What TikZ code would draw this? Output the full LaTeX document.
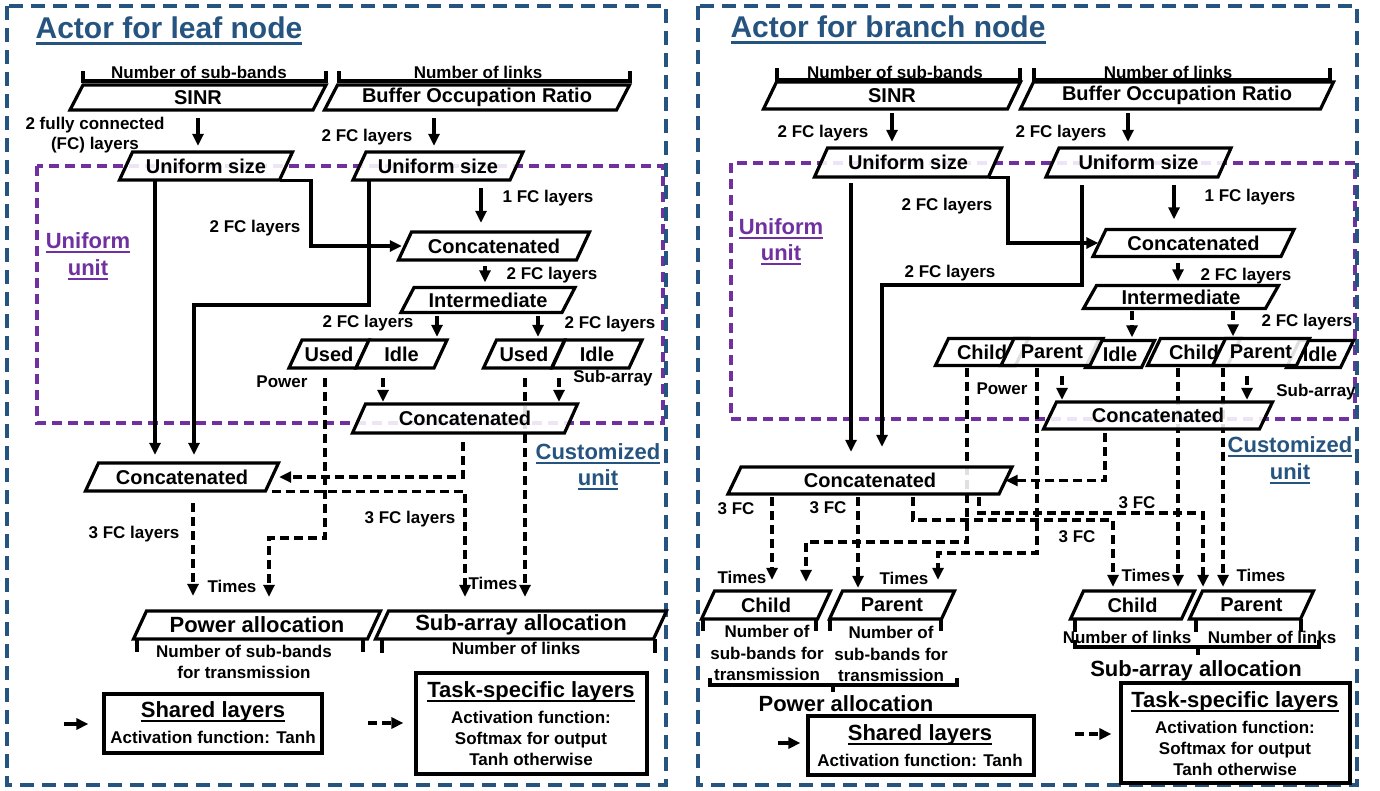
\documentclass[tikz,border=0pt]{standalone}
\usepackage{fontspec}
\setmainfont{Liberation Sans}
\usetikzlibrary{arrows.meta,calc}
\definecolor{bluec}{RGB}{38,84,128}
\definecolor{purp}{RGB}{112,48,160}
\pgfdeclarelayer{background}
\pgfsetlayers{background,main}
\newcommand\fs[2]{\fontsize{#1}{#2}\selectfont\bfseries}
\newcommand\ulin[1]{\setbox0\hbox{#1}\rlap{\rule[-0.2em]{\wd0}{0.08em}}\box0}
\newcommand\pg[7][]{%
  \filldraw[box] ({#3-(#5)/2+6.5},{#4-(#6)/2}) -- ({#3+(#5)/2+6.5},{#4-(#6)/2}) -- ({#3+(#5)/2-6.5},{#4+(#6)/2}) -- ({#3-(#5)/2-6.5},{#4+(#6)/2}) -- cycle;
  \node[lbl,minimum width=#5,minimum height=#6,#1] (#2) at (#3,#4) {#7};}
\tikzset{
 box/.style={draw=black,line width=3.2pt,fill=white,fill opacity=0.88,line join=miter},
 lbl/.style={inner sep=0pt,font=\fs{20}{24},text=black},
 lab/.style={inner sep=0pt,font=\fs{17}{20.5},align=center},
 big/.style={font=\fs{22}{26}},
 arr/.style={line width=3.2pt,-{Triangle[length=12pt,width=11pt]}},
 darr/.style={arr,dash pattern=on 9pt off 5pt},
 brk/.style={line width=3.2pt},
 bdash/.style={draw=bluec,line width=3.4pt,dash pattern=on 14pt off 8pt},
 pdash/.style={draw=purp,line width=3.4pt,dash pattern=on 10pt off 6pt},
 ttl/.style={inner sep=0pt,font=\fs{30}{35},text=bluec},
 lgbox/.style={draw=black,line width=3.2pt,fill=white,inner sep=0pt},
}
\begin{document}
\begin{tikzpicture}[x=1pt,y=-1pt]
\useasboundingbox (0,0) rectangle (1380,790);
\begin{pgfonlayer}{background}
\fill[white] (0,0) rectangle (1380,790);
\draw[pdash] (37,166) rectangle (663,423);
\draw[pdash] (731,163) rectangle (1355,419);
\end{pgfonlayer}
\draw[bdash] (7,6) rectangle (666,785);
\draw[bdash] (698,6) rectangle (1357,785);

% ================= LEFT PANEL =================
\node[ttl] (titleL) at (169,31) {\ulin{Actor for leaf node}};
\draw[brk] (83,71) -- (83,81) -- (326,81) -- (326,71);
\draw[brk] (339,71) -- (339,81) -- (630,81) -- (630,71);
\node[lab] (nsbL) at (199,72) {Number of sub-bands};
\node[lab] (nlkL) at (478,72) {Number of links};
\pg{sinrL}{198}{97.5}{243}{25}{SINR}
\pg{borL}{477}{97.5}{292}{25}{Buffer Occupation Ratio}
\node[lab] (fc0L) at (95,135) {2 fully connected\\(FC) layers};
\node[lab] (fc1L) at (367,137) {2 FC layers};
\pg{usL}{206}{166}{160}{28}{Uniform size}
\pg{urL}{438}{166}{157}{28}{Uniform size}
\node[lab] (fc2L) at (548,198) {1 FC layers};
\node[lab] (fc3L) at (255,228) {2 FC layers};
\node[lab,font=\fs{22}{27},text=purp] (uuL) at (88,256) {\ulin{Uniform}\\\ulin{unit}};
\pg{catA}{494}{246}{178}{28}{Concatenated}
\node[lab] (fc4L) at (552,275) {2 FC layers};
\pg{intL}{488}{300}{161}{25}{Intermediate}
\node[lab] (fc5L) at (368,323) {2 FC layers};
\node[lab] (fc6L) at (610,324) {2 FC layers};
\pg{usedL}{329}{354}{67}{28}{Used}
\pg{idleL}{401.5}{354}{78}{28}{Idle}
\pg{usedR}{524}{354}{68}{28}{Used}
\pg{idleR}{597}{354}{77}{28}{Idle}
\node[lab] (pwL) at (282,382) {Power};
\node[lab] (saL) at (613,378) {Sub-array};
\pg{catB}{465}{418.5}{212}{29}{Concatenated}
\node[lab,font=\fs{22}{26},text=bluec] (cuL) at (598,467) {\ulin{Customized}\\\ulin{unit}};
\pg{catC}{182}{477}{180}{28}{Concatenated}
\node[lab] (fc7L) at (134,534) {3 FC layers};
\node[lab] (fc8L) at (410,519) {3 FC layers};
\node[lab] (tm1L) at (232,586) {Times};
\node[lab] (tm2L) at (493,583) {Times};
\pg[big]{powL}{257}{625}{234}{28}{Power allocation}
\pg[big]{subL}{521}{625}{278}{28}{Sub-array allocation}
\draw[brk] (137,639) -- (137,652);
\draw[brk] (363,639) -- (363,652);
\draw[brk] (382,639) -- (382,653);
\draw[brk] (655,639) -- (655,653);
\node[lab,font=\fs{17}{21}] (nsb2L) at (244,662) {Number of sub-bands\\for transmission};
\node[lab] (nlk2L) at (516,648) {Number of links};
% legend left
\node[lgbox,minimum width=218,minimum height=59] (shL) at (213,723.5) {};
\node[lab,font=\fs{22}{26}] (shLt) at (213,712) {\ulin{Shared layers}};
\node[lab] (shLa) at (213,737) {Activation function: Tanh};
\node[lgbox,minimum width=231,minimum height=101] (tskL) at (531.5,723.5) {};
\node[lab,font=\fs{22}{26}] (tskLt) at (531,692) {\ulin{Task-specific layers}};
\node[lab,font=\fs{17}{21}] (tskLa) at (531,738) {Activation function:\\Softmax for output\\Tanh otherwise};
\coordinate (lgA) at (64,724);
\coordinate (lgB) at (368,723);

% ================= RIGHT PANEL =================
\node[ttl] (titleR) at (888,30) {\ulin{Actor for branch node}};
\draw[brk] (777,68) -- (777,80) -- (1020,80) -- (1020,68);
\draw[brk] (1034,68) -- (1034,80) -- (1330,80) -- (1330,68);
\node[lab] (nsbR) at (895,72) {Number of sub-bands};
\node[lab] (nlkR) at (1168,72) {Number of links};
\pg{sinrR}{892}{95.5}{244}{27}{SINR}
\pg{borR}{1177}{95.5}{300}{27}{Buffer Occupation Ratio}
\node[lab] (fc1R) at (823,133) {2 FC layers};
\node[lab] (fc2R) at (1061,133) {2 FC layers};
\pg{usR}{908}{162.5}{174}{29}{Uniform size}
\pg{urR}{1138.5}{162.5}{172}{29}{Uniform size}
\node[lab] (fc3R) at (947,206) {2 FC layers};
\node[lab] (fc4R) at (1250,197) {1 FC layers};
\node[lab,font=\fs{22}{26},text=purp] (uuR) at (781,242) {\ulin{Uniform}\\\ulin{unit}};
\pg{catAR}{1193.5}{243}{188}{27}{Concatenated}
\node[lab] (fc5R) at (950,273) {2 FC layers};
\node[lab] (fc6R) at (1246,276) {2 FC layers};
\pg{intR}{1181}{297}{182}{23}{Intermediate}
\node[lab] (fc7R) at (1307,322) {2 FC layers};
\pg{chR1}{982}{352}{80}{27}{Child}
\pg{idR1}{1120}{354}{56}{27}{Idle}
\pg{paR1}{1052}{352}{89}{27}{Parent}
\pg{chR2}{1194}{352}{80}{27}{Child}
\pg{idR2}{1320}{354}{54}{27}{Idle}
\pg{paR2}{1261}{352}{84}{27}{Parent}
\node[lab] (pwR) at (1002,389) {Power};
\node[lab] (saR) at (1316,392) {Sub-array};
\pg{catMR}{1158}{415.5}{216}{27}{Concatenated}
\node[lab,font=\fs{22}{27},text=bluec] (cuR) at (1290,460) {\ulin{Customized}\\\ulin{unit}};
\pg{catLR}{870}{480.5}{271}{27}{Concatenated}
\node[lab] (fc8R) at (736,509) {3 FC};
\node[lab] (fc9R) at (828,508) {3 FC};
\node[lab] (fc10R) at (1137,503) {3 FC};
\node[lab] (fc11R) at (1077,537) {3 FC};
\node[lab] (tm1R) at (742,577) {Times};
\node[lab] (tm2R) at (904,578) {Times};
\node[lab] (tm3R) at (1146,575) {Times};
\node[lab] (tm4R) at (1261,575) {Times};
\pg{cPow}{766}{605}{116}{28}{Child}
\pg{pPow}{892}{605}{112}{28}{Parent}
\pg{cSub}{1132.5}{605}{111}{28}{Child}
\pg{pSub}{1251.5}{605}{111}{28}{Parent}
\draw[brk] (703,619) -- (703,631);
\draw[brk] (816,619) -- (816,631);
\draw[brk] (830,619) -- (830,631);
\draw[brk] (941,619) -- (941,631);
\node[lab,font=\fs{17}{21.5}] (nsc1R) at (767,653) {Number of\\sub-bands for\\transmission};
\node[lab,font=\fs{17}{21.5}] (nsc2R) at (891,654) {Number of\\sub-bands for\\transmission};
\draw[brk] (710,678) -- (710,685) -- (957,685) -- (957,678);
\draw[brk] (833,685) -- (833,692);
\node[lab,font=\fs{22}{26}] (paR) at (846,704) {Power allocation};
\draw[brk] (1075,619) -- (1075,632);
\draw[brk] (1196,619) -- (1196,632);
\draw[brk] (1301,619) -- (1301,632);
\node[lab] (nl1R) at (1127,637) {Number of links};
\node[lab] (nl2R) at (1272,637) {Number of links};
\draw[brk] (1075,640) -- (1075,647) -- (1319,647) -- (1319,640);
\draw[brk] (1198,647) -- (1198,655);
\node[lab,font=\fs{22}{26}] (saaR) at (1196,671) {Sub-array allocation};
% legend right
\node[lgbox,minimum width=226,minimum height=59] (shR) at (921,745.5) {};
\node[lab,font=\fs{22}{26}] (shRt) at (920,735) {\ulin{Shared layers}};
\node[lab] (shRa) at (920,760) {Activation function: Tanh};
\node[lgbox,minimum width=229,minimum height=100] (tskR) at (1235.5,733) {};
\node[lab,font=\fs{22}{26}] (tskRt) at (1235,702) {\ulin{Task-specific layers}};
\node[lab,font=\fs{17}{21}] (tskRa) at (1235,748) {Activation function:\\Softmax for output\\Tanh otherwise};
\coordinate (lgC) at (778,743);
\coordinate (lgD) at (1075,734);

% ================= CONNECTORS =================
\begin{pgfonlayer}{background}
% left
\coordinate (x434) at (434,0);
\coordinate (x481) at (481,0);
\coordinate (x311) at (311,0);
\coordinate (x155) at (155,0);
\coordinate (k369) at (369,305);
\coordinate (x194) at (194,0);
\coordinate (x485) at (485,0);
\coordinate (x437) at (437,0);
\coordinate (x538) at (538,0);
\coordinate (k325) at (325,538);
\coordinate (x269) at (269,0);
\coordinate (x383) at (383,0);
\coordinate (x559) at (559,0);
\coordinate (x525) at (525,0);
\coordinate (x463) at (463,0);
\coordinate (x465) at (465,0);
\coordinate (x193) at (193,0);
\draw[arr,shorten <=8pt,shorten >=6pt] (sinrL.south) -- (usL.north -| sinrL.south);
\draw[arr,shorten <=8pt,shorten >=6pt] (borL.south -| x434) -- (urL.north -| x434);
\draw[arr,shorten <=8pt,shorten >=9pt] (urL.south -| x481) -- (catA.north -| x481);
\draw[arr,shorten >=3pt] ([xshift=-6.5pt]usL.south east) -| (catA.west -| x311) -- (catA.west);
\draw[arr,shorten >=8pt] (usL.south -| x155) -- (catC.north -| x155);
\draw[arr,shorten >=8pt] (urL.south -| k369) -- (k369) -| (catC.north -| x194);
\draw[arr,shorten <=6pt,shorten >=5pt] (catA.south -| x485) -- (intL.north -| x485);
\draw[darr,shorten <=3pt,shorten >=3pt] (intL.south -| x437) -- (idleL.north -| x437);
\draw[darr,shorten <=3pt,shorten >=3pt] (intL.south -| x538) -- (usedR.north -| x538);
\draw[darr,shorten <=10pt,shorten >=14pt] (usedL.south -| k325) -- (k325) -| (powL.north -| x269);
\draw[darr,shorten <=10pt,shorten >=2pt] (idleL.south -| x383) -- (catB.north -| x383);
\draw[darr,shorten <=10pt,shorten >=2pt] (idleR.south -| x559) -- (catB.north -| x559);
\draw[darr,shorten <=10pt,shorten >=14pt] (usedR.south -| x525) -- (subL.north -| x525);
\draw[darr,shorten <=9pt,shorten >=7pt] (catB.south -| x463) |- (catC.east);
\draw[darr,shorten >=14pt] (catC.south east) -| (subL.north -| x465);
\draw[darr,shorten <=12pt,shorten >=15pt] (catC.south -| x193) -- (powL.north -| x193);
\draw[arr,shorten >=14pt] (lgA) -- (lgA -| shL.west);
\draw[darr,shorten >=11pt] (lgB) -- (lgB -| tskL.west);
% right
\coordinate (x1128) at (1128,0);
\coordinate (x1174) at (1174,0);
\coordinate (x1008) at (1008,0);
\coordinate (x851) at (851,0);
\coordinate (k1082) at (1082,285);
\coordinate (x882) at (882,0);
\coordinate (x1178) at (1178,0);
\coordinate (x1132) at (1132,0);
\coordinate (x1233) at (1233,0);
\coordinate (k967) at (967,542);
\coordinate (x806) at (806,0);
\coordinate (k1037) at (1037,553);
\coordinate (x938) at (938,0);
\coordinate (x1062) at (1062,0);
\coordinate (x1247) at (1247,0);
\coordinate (x1105) at (1105,0);
\coordinate (x772) at (772,0);
\coordinate (x858) at (858,0);
\coordinate (k913) at (913,520);
\coordinate (x1113) at (1113,0);
\coordinate (k979) at (979,513);
\coordinate (x1203) at (1203,0);
\coordinate (x1223) at (1223,0);
\draw[arr,shorten <=4pt,shorten >=6pt] (sinrR.south) -- (usR.north -| sinrR.south);
\draw[arr,shorten <=4pt,shorten >=6pt] (borR.south -| x1128) -- (urR.north -| x1128);
\draw[arr,shorten <=8pt,shorten >=10pt] (urR.south -| x1174) -- (catAR.north -| x1174);
\draw[arr,shorten >=1pt] ([xshift=-6.5pt]usR.south east) -| (catAR.west -| x1008) -- (catAR.west);
\draw[arr,shorten <=6pt,shorten >=15pt] (usR.south -| x851) -- (catLR.north -| x851);
\draw[arr,shorten <=8pt,shorten >=20pt] (urR.south -| k1082) -- (k1082) -| (catLR.north -| x882);
\draw[arr,shorten <=6pt,shorten >=4pt] (catAR.south -| x1178) -- (intR.north -| x1178);
\draw[darr,shorten <=2pt,shorten >=3pt] (intR.south -| x1132) -- (idR1.north -| x1132);
\draw[darr,shorten <=2pt,shorten >=2pt] (intR.south -| x1233) -- (paR2.north -| x1233);
\draw[darr,shorten <=2pt,shorten >=9pt] (chR1.south -| k967) -- (k967) -| (cPow.north -| x806);
\draw[darr,shorten <=2pt,shorten >=11pt] (paR1.south -| k1037) -- (k1037) -| (pPow.north -| x938);
\draw[darr,shorten <=10pt,shorten >=2pt] (paR1.south -| x1062) -- (catMR.north -| x1062);
\draw[darr,shorten <=10pt,shorten >=2pt] (paR2.south -| x1247) -- (catMR.north -| x1247);
\draw[darr,shorten <=4pt] (catMR.south -| x1105) |- (catLR.east);
\draw[darr,shorten <=3pt,shorten >=11pt] (catLR.south -| x772) -- (cPow.north -| x772);
\draw[darr,shorten <=3pt,shorten >=3pt] (catLR.south -| x858) -- (pPow.north -| x858);
\draw[darr,shorten <=3pt,shorten >=4pt] (catLR.south -| k913) -- (k913) -| (cSub.north -| x1113);
\draw[darr,shorten <=3pt,shorten >=4pt] (catLR.south -| k979) -- (k979) -| (pSub.north -| x1203);
\draw[darr,shorten <=2pt,shorten >=4pt] (chR2.south -| x1178) -- (cSub.north -| x1178);
\draw[darr,shorten <=2pt,shorten >=4pt] (paR2.south -| x1223) -- (pSub.north -| x1223);
\draw[arr,shorten >=6pt] (lgC) -- (lgC -| shR.west);
\draw[darr,shorten >=8pt] (lgD) -- (lgD -| tskR.west);
\end{pgfonlayer}
\end{tikzpicture}
\end{document}
